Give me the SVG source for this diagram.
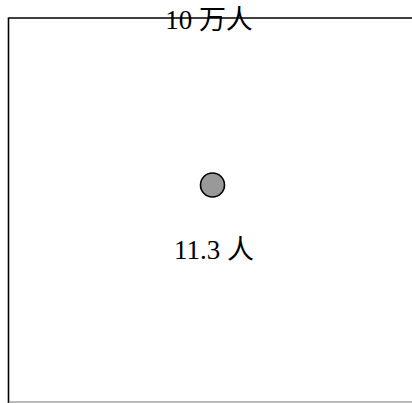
<svg xmlns="http://www.w3.org/2000/svg" width="412" height="403" viewBox="0 0 412 403">
<style>
.lbl{font-family:"Liberation Serif","Noto Sans CJK SC",serif;font-size:27px;fill:#000;text-anchor:middle}
</style>
<rect width="412" height="403" fill="#fff"/>
<g id="frame">
<path d="M8.5 403 V18 H412" fill="none" stroke="#000" stroke-width="1.6"/>
<path d="M8.5 402 H412" fill="none" stroke="#777" stroke-width="1"/>
</g>
<g id="top-label"><text class="lbl" x="209" y="29">10 万人</text></g>
<g id="point">
<circle cx="212.5" cy="185" r="12" fill="#999" stroke="#000" stroke-width="1.6"/>
</g>
<g id="value-label"><text class="lbl" x="214" y="259">11.3 人</text></g>
<g id="connectors"/>
</svg>
